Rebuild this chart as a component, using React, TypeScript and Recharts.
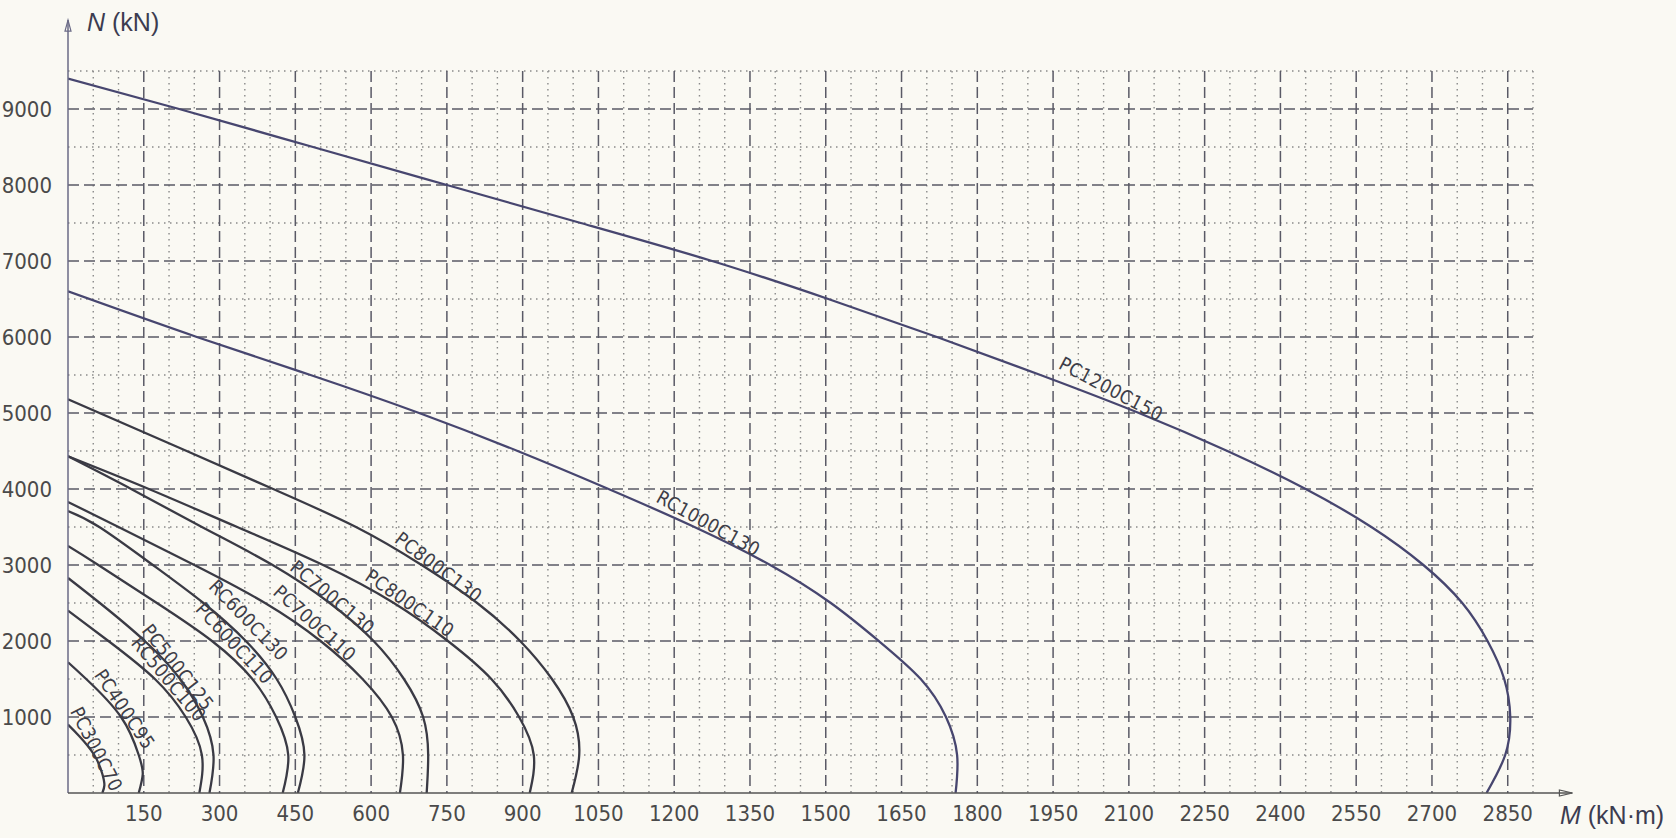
import React from 'react';
import {
  LineChart,
  Line,
  XAxis,
  YAxis,
  CartesianGrid,
  ReferenceLine,
  ReferenceDot,
} from 'recharts';

// tick labels
const mTicks = [150, 300, 450, 600, 750, 900, 1050, 1200, 1350, 1500, 1650, 1800, 1950, 2100, 2250, 2400, 2550, 2700, 2850];
const nTicks = [1000, 2000, 3000, 4000, 5000, 6000, 7000, 8000, 9000];
const nMinor = [500, 1500, 2500, 3500, 4500, 5500, 6500, 7500, 8500, 9500];

// curves, [M (kN·m), N (kN)]
const pc1200c150 = [[0, 9400], [220, 9000], [485, 8500], [750, 8000], [1015, 7500], [1275, 7000], [1505, 6500], [1720, 6000], [1925, 5500], [2120, 5000], [2295, 4500], [2450, 4000], [2580, 3500], [2683, 3000], [2760, 2500], [2810, 2000], [2843, 1500], [2855, 1000], [2845, 500], [2808, 0]];
const rc1000c130 = [[0, 6600], [255, 6000], [480, 5500], [695, 5000], [890, 4500], [1070, 4000], [1240, 3500], [1390, 3000], [1510, 2500], [1605, 2000], [1688, 1500], [1738, 1000], [1760, 500], [1757, 0]];
const pc800c130 = [[0, 5180], [235, 4500], [406, 4000], [570, 3500], [700, 3000], [810, 2500], [895, 2000], [958, 1500], [1000, 1000], [1012, 500], [997, 0]];
const pc800c110 = [[0, 4430], [160, 4000], [335, 3500], [505, 3000], [645, 2500], [752, 2000], [838, 1500], [893, 1000], [922, 500], [914, 0]];
const pc700c130 = [[0, 4430], [125, 4000], [265, 3500], [405, 3000], [518, 2500], [605, 2000], [665, 1500], [703, 1000], [713, 500], [710, 0]];
const pc700c110 = [[0, 3830], [100, 3500], [250, 3000], [390, 2500], [500, 2000], [583, 1500], [641, 1000], [663, 500], [657, 0]];
const rc600c130 = [[0, 3710], [62, 3500], [168, 3000], [268, 2500], [352, 2000], [413, 1500], [450, 1000], [468, 500], [455, 0]];
const pc600c110 = [[0, 3250], [60, 3000], [176, 2500], [285, 2000], [365, 1500], [412, 1000], [436, 500], [425, 0]];
const pc500c125 = [[0, 2830], [63, 2500], [152, 2000], [222, 1500], [267, 1000], [288, 500], [280, 0]];
const rc500c100 = [[0, 2400], [80, 2000], [172, 1500], [233, 1000], [265, 500], [260, 0]];
const pc400c95 = [[0, 1720], [36, 1500], [105, 1000], [140, 500], [148, 250], [140, 0]];
const pc300c70 = [[0, 900], [22, 750], [52, 500], [68, 250], [72, 100], [68, 0]];

// label name, M, N at text centre, rotation
const curveLabels: [string, number, number, number][] = [
  ['PC1200C150', 2065, 5320, 28],
  ['RC1000C130', 1268, 3553, 29],
  ['PC800C130', 734, 2974, 37],
  ['PC800C110', 677, 2500, 35],
  ['PC700C130', 524, 2579, 40],
  ['PC700C110', 489, 2237, 42],
  ['RC600C130', 358, 2276, 46],
  ['PC600C110', 330, 1974, 47],
  ['PC500C125', 218, 1658, 52],
  ['RC500C100', 200, 1500, 50],
  ['PC400C95', 113, 1105, 56],
  ['PC300C70', 57, 579, 63],
];

const curves = [
  { key: 'PC1200C150', pts: pc1200c150, color: '#47466f' },
  { key: 'RC1000C130', pts: rc1000c130, color: '#47466f' },
  { key: 'PC800C130', pts: pc800c130, color: '#3a3a44' },
  { key: 'PC800C110', pts: pc800c110, color: '#3a3a44' },
  { key: 'PC700C130', pts: pc700c130, color: '#3a3a44' },
  { key: 'PC700C110', pts: pc700c110, color: '#3a3a44' },
  { key: 'RC600C130', pts: rc600c130, color: '#3a3a44' },
  { key: 'PC600C110', pts: pc600c110, color: '#3a3a44' },
  { key: 'PC500C125', pts: pc500c125, color: '#3a3a44' },
  { key: 'RC500C100', pts: rc500c100, color: '#3a3a44' },
  { key: 'PC400C95', pts: pc400c95, color: '#3a3a44' },
  { key: 'PC300C70', pts: pc300c70, color: '#3a3a44' },
];

const mMinor = Array.from({ length: 58 }, (_, i) => (i + 1) * 50).filter((v) => v % 150 !== 0);

const tickFont = {
  fontFamily: "'Liberation Sans Narrow', 'DejaVu Sans Condensed', sans-serif",
  fontSize: 22,
  fill: '#4a4a4a',
};

const titleStyle: React.CSSProperties = {
  position: 'absolute',
  fontFamily: "'Liberation Sans', Arial, sans-serif",
  fontSize: 25,
  lineHeight: '26px',
  color: '#3c3c50',
  whiteSpace: 'nowrap',
};

const VArrow = (p: any) => (
  <g>
    <line x1={p.x1} y1={p.y1} x2={p.x2} y2={p.y2} stroke="#6a6a86" strokeWidth={1.5} />
    <polygon
      points={`${p.x2},${p.y2} ${p.x2 - 3},${p.y2 + 11} ${p.x2 + 3},${p.y2 + 11}`}
      fill="none"
      stroke="#6a6a86"
      strokeWidth={1.2}
    />
  </g>
);

const HArrow = (p: any) => (
  <g>
    <line x1={p.x1} y1={p.y1} x2={p.x2} y2={p.y2} stroke="#555" strokeWidth={1.5} />
    <polygon
      points={`${p.x2},${p.y2} ${p.x2 - 13},${p.y2 - 3} ${p.x2 - 13},${p.y2 + 3}`}
      fill="none"
      stroke="#555"
      strokeWidth={1.2}
    />
  </g>
);

export default function App() {
  return (
    <div
      style={{
        position: 'absolute',
        left: 0,
        top: 0,
        width: 1676,
        height: 838,
        background: '#faf9f3',
        overflow: 'hidden',
      }}
    >
      <LineChart width={1676} height={838} margin={{ top: 71, right: 143, bottom: 15, left: 8 }}>
        {/* minor dotted grid */}
        <CartesianGrid
          horizontalValues={nMinor}
          verticalValues={mMinor}
          stroke="#8a8a8a"
          strokeWidth={1.4}
          strokeDasharray="1.5 4.5"
        />
        {/* major dashed grid */}
        <CartesianGrid
          horizontalValues={nTicks}
          verticalValues={mTicks}
          stroke="#5a5a66"
          strokeWidth={1.5}
          strokeDasharray="11 5"
        />
        <XAxis
          type="number"
          dataKey="m"
          domain={[0, 2900]}
          ticks={mTicks}
          allowDataOverflow
          axisLine={false}
          tickLine={false}
          tickSize={6}
          tickMargin={6}
          height={30}
          tick={tickFont}
          interval={0}
        />
        <YAxis
          type="number"
          dataKey="n"
          domain={[0, 9500]}
          ticks={nTicks}
          allowDataOverflow
          axisLine={false}
          tickLine={false}
          tickSize={6}
          tickMargin={10}
          width={60}
          tick={tickFont}
          interval={0}
        />
        {curves.map((c) => (
          <Line
            key={c.key}
            data={c.pts.map(([m, n]) => ({ m, n }))}
            dataKey="n"
            type="natural"
            stroke={c.color}
            strokeWidth={2.3}
            dot={false}
            activeDot={false}
            isAnimationActive={false}
          />
        ))}
        <ReferenceLine segment={[{ x: 0, y: 0 }, { x: 0, y: 10170 }]} ifOverflow="visible" shape={VArrow} />
        <ReferenceLine segment={[{ x: 0, y: 0 }, { x: 2978, y: 0 }]} ifOverflow="visible" shape={HArrow} />
        {curveLabels.map(([name, m, n, angle]) => (
          <ReferenceDot
            key={name}
            x={m}
            y={n}
            r={0}
            ifOverflow="visible"
            shape={(p: any) => (
              <text
                x={p.cx}
                y={p.cy}
                transform={`rotate(${angle} ${p.cx} ${p.cy})`}
                textAnchor="middle"
                dominantBaseline="central"
                fontFamily="'DejaVu Sans Condensed', 'DejaVu Sans', sans-serif"
                fontSize={19}
                letterSpacing={0.4}
                fill="#3e3e48"
              >
                {name}
              </text>
            )}
          />
        ))}
      </LineChart>
      <div style={{ ...titleStyle, left: 87, top: 9 }}>
        <i>N</i> (kN)
      </div>
      <div style={{ ...titleStyle, left: 1560, top: 802 }}>
        <i>M</i> (kN·m)
      </div>
    </div>
  );
}
